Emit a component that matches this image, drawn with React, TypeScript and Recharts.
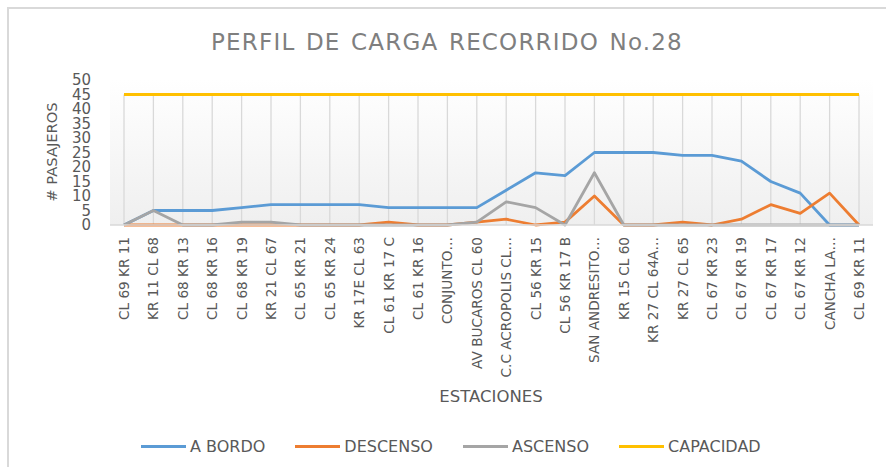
import { CartesianGrid, Line, LineChart, ReferenceLine, XAxis, YAxis } from "recharts";

const stations = [
  "CL 69 KR 11", "KR 11 CL 68", "CL 68 KR 13", "CL 68 KR 16", "CL 68 KR 19",
  "KR 21 CL 67", "CL 65 KR 21", "CL 65 KR 24", "KR 17E CL 63", "CL 61 KR 17 C",
  "CL 61 KR 16", "CONJUNTO…", "AV BUCAROS CL 60", "C.C ACROPOLIS CL…", "CL 56 KR 15",
  "CL 56 KR 17 B", "SAN ANDRESITO…", "KR 15 CL 60", "KR 27 CL 64A…", "KR 27 CL 65",
  "CL 67 KR 23", "CL 67 KR 19", "CL 67 KR 17", "CL 67 KR 12", "CANCHA LA…", "CL 69 KR 11",
];
const aBordo = [0, 5, 5, 5, 6, 7, 7, 7, 7, 6, 6, 6, 6, 12, 18, 17, 25, 25, 25, 24, 24, 22, 15, 11, 0, 0];
const descenso = [0, 0, 0, 0, 0, 0, 0, 0, 0, 1, 0, 0, 1, 2, 0, 1, 10, 0, 0, 1, 0, 2, 7, 4, 11, 0];
const ascenso = [0, 5, 0, 0, 1, 1, 0, 0, 0, 0, 0, 0, 1, 8, 6, 0, 18, 0, 0, 0, 0, 0, 0, 0, 0, 0];
const capacidad = stations.map(() => 45);
const yTicks = [0, 5, 10, 15, 20, 25, 30, 35, 40, 45, 50];

const data = stations.map((name, i) => ({
  i,
  name,
  aBordo: aBordo[i],
  descenso: descenso[i],
  ascenso: ascenso[i],
  capacidad: capacidad[i],
}));

const COLORS = {
  aBordo: "#5b9bd5",
  descenso: "#ed7d31",
  ascenso: "#a5a5a5",
  capacidad: "#ffc000",
  text: "#595959",
  line: "#d9d9d9",
};

const series = [
  { key: "aBordo", name: "A BORDO", color: COLORS.aBordo },
  { key: "descenso", name: "DESCENSO", color: COLORS.descenso },
  { key: "ascenso", name: "ASCENSO", color: COLORS.ascenso },
  { key: "capacidad", name: "CAPACIDAD", color: COLORS.capacidad },
];

const FONT = "'DejaVu Sans', sans-serif";

function StationTick({ x, y, payload }: any) {
  return (
    <text
      transform={`translate(${x},${y}) rotate(-90)`}
      textAnchor="end"
      dominantBaseline="central"
      fontSize={13.6}
      fontFamily={FONT}
      fill={COLORS.text}
    >
      {stations[payload.value]}
    </text>
  );
}

export default function App() {
  return (
    <div style={{ position: "absolute", left: 0, top: 0, width: 886, height: 467, background: "#fff", overflow: "hidden", fontFamily: FONT }}>
      <div style={{ position: "absolute", left: 7, top: 7, width: 900, height: 480, borderLeft: `2px solid ${COLORS.line}`, borderTop: `2px solid ${COLORS.line}` }} />
      <div style={{ position: "absolute", left: 0, top: 29, width: 894, textAlign: "center", fontSize: 23, letterSpacing: 1.2, wordSpacing: 2, color: "#7f7f7f" }}>
        PERFIL DE CARGA RECORRIDO No.28
      </div>
      <div style={{ position: "absolute", left: 51, top: 152, transform: "translate(-50%,-50%) rotate(-90deg)", whiteSpace: "nowrap", fontSize: 14.7, color: COLORS.text }}>
        # PASAJEROS
      </div>
      <div style={{ position: "absolute", left: 0, top: 387, width: 982, textAlign: "center", fontSize: 16.5, color: COLORS.text }}>
        ESTACIONES
      </div>
      <div style={{ position: "absolute", left: 141, top: 437, display: "flex", gap: 30, fontSize: 16, color: COLORS.text }}>
        {series.map((s) => (
          <div key={s.key} style={{ display: "flex", alignItems: "center" }}>
            <span style={{ display: "inline-block", width: 45, height: 3, background: s.color, marginRight: 4 }} />
            <span>{s.name}</span>
          </div>
        ))}
      </div>
      <div style={{ position: "absolute", left: 0, top: 0 }}>
        <LineChart width={886} height={467} data={data} margin={{ top: 80, right: 13, left: 0, bottom: 0 }}>
          <defs>
            <linearGradient id="bg" x1="0" y1="0" x2="0" y2="1">
              <stop offset="0%" stopColor="#ffffff" />
              <stop offset="100%" stopColor="#efefef" />
            </linearGradient>
          </defs>
          <CartesianGrid fill="url(#bg)" horizontal={false} vertical={false} />
          <XAxis
            dataKey="i"
            type="number"
            domain={[0, stations.length - 1]}
            ticks={data.map((d) => d.i)}
            interval={0}
            padding={{ left: 14, right: 14 }}
            height={242}
            tickSize={0}
            tickMargin={12}
            tickLine={false}
            axisLine={{ stroke: COLORS.line, strokeWidth: 1.5 }}
            tick={<StationTick />}
          />
          <YAxis
            domain={[0, 50]}
            ticks={yTicks}
            interval={0}
            width={110}
            tickSize={0}
            tickMargin={19}
            axisLine={false}
            tickLine={false}
            tick={{ fontSize: 15, fontFamily: FONT, fill: COLORS.text }}
          />
          {data.map((d) => (
            <ReferenceLine
              key={d.i}
              segment={[{ x: d.i, y: 0 }, { x: d.i, y: d.capacidad }]}
              stroke={COLORS.line}
              strokeWidth={1.3}
            />
          ))}
          {series.map((s) => (
            <Line
              key={s.key}
              type="linear"
              dataKey={s.key}
              name={s.name}
              stroke={s.color}
              strokeWidth={2.8}
              strokeLinejoin="round"
              dot={false}
              activeDot={false}
              isAnimationActive={false}
            />
          ))}
        </LineChart>
      </div>
    </div>
  );
}
